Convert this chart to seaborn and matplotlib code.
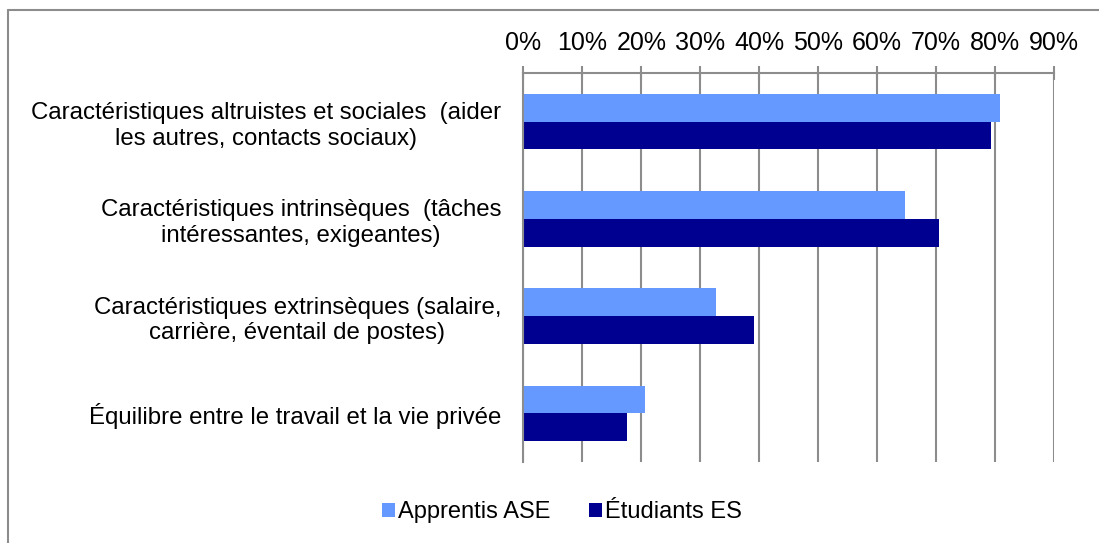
"""
Caractéristiques du métier - horizontal grouped bars
"""
import matplotlib.pyplot as plt
import matplotlib.lines as mlines
import seaborn as sns
import pandas as pd

sns.set_theme(style="white")
plt.rcParams['font.family'] = ['Liberation Sans', 'DejaVu Sans']
plt.rcParams['text.color'] = 'black'
plt.rcParams['xtick.labelcolor'] = 'black'
plt.rcParams['ytick.labelcolor'] = 'black'

categories = [
    "Caractéristiques altruistes et sociales  (aider\nles autres, contacts sociaux)",
    "Caractéristiques intrinsèques  (tâches\nintéressantes, exigeantes)",
    "Caractéristiques extrinsèques (salaire,\ncarrière, éventail de postes)",
    "Équilibre entre le travail et la vie privée",
]
series = ["Apprentis ASE", "Étudiants ES"]
apprentis = [0.809, 0.648, 0.326, 0.207]
etudiants = [0.793, 0.705, 0.392, 0.175]
tick_vals = [i / 10 for i in range(10)]
tick_labels = [f"{i * 10}%" for i in range(10)]
colors = ["#6699FF", "#000090"]
GREY = "#8c8c8c"

df = pd.DataFrame({
    "categorie": categories * 2,
    "groupe": [series[0]] * 4 + [series[1]] * 4,
    "valeur": apprentis + etudiants,
})

fig = plt.figure(figsize=(10.99, 5.43), dpi=100)
ax = fig.add_axes([0.4762, 0.1492, 0.9591 - 0.4762, 0.8656 - 0.1492])

sns.barplot(data=df, x="valeur", y="categorie", hue="groupe", orient="h",
            palette=colors, saturation=1, width=0.57, dodge=True, ax=ax,
            legend=True, edgecolor="none", linewidth=0)

ax.set_xlim(0, 0.9)
ax.set_ylim(3.5, -0.5)
ax.set_xlabel("")
ax.set_ylabel("")

# x axis on top
ax.xaxis.tick_top()
ax.set_xticks(tick_vals)
ax.set_xticklabels(tick_labels, fontsize=18)
ax.tick_params(axis="x", direction="inout", length=10, width=1.5, color=GREY,
               pad=8, labelcolor="black")
ax.grid(axis="x", color=GREY, linewidth=1.5)
ax.set_axisbelow(True)

# y axis: labels at centres, ticks at boundaries
ax.set_yticks(range(len(categories)))
ax.set_yticklabels(categories, fontsize=17.3)
ax.set_yticks([-0.5, 0.5, 1.5, 2.5, 3.5], minor=True)
ax.tick_params(axis="y", which="major", length=0, pad=16, labelcolor="black")
ax.tick_params(axis="y", which="minor", direction="out", length=6, width=1.5, color=GREY)
for lab in ax.get_yticklabels():
    lab.set_multialignment("center")

for side in ["right", "bottom"]:
    ax.spines[side].set_visible(False)
for side in ["left", "top"]:
    ax.spines[side].set_color(GREY)
    ax.spines[side].set_linewidth(1.5)

# legend at bottom
handles, labels = ax.get_legend_handles_labels()
ax.get_legend().remove()
fig.legend(handles, labels, loc="center", bbox_to_anchor=(562 / 1099, 1 - 512 / 543),
           ncol=2, frameon=False, fontsize=17, handlelength=0.55, handleheight=0.55,
           handletextpad=0.15, columnspacing=1.6)

# outer chart frame (top and left edges)
fig.add_artist(mlines.Line2D([7.5 / 1099, 1], [1 - 9.5 / 543, 1 - 9.5 / 543],
                             transform=fig.transFigure, color=GREY, linewidth=1.5))
fig.add_artist(mlines.Line2D([7.5 / 1099, 7.5 / 1099], [0, 1 - 9.5 / 543],
                             transform=fig.transFigure, color=GREY, linewidth=1.5))

fig.savefig("out.png", dpi=100)
plt.close(fig)
